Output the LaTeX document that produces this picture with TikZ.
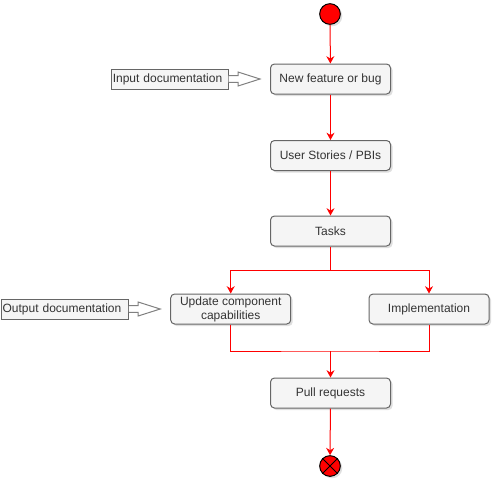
\documentclass[tikz,border=0pt]{standalone}
\usepackage{fontspec}
\setmainfont{Liberation Sans}
\usetikzlibrary{shadows,arrows.meta,calc}
\definecolor{boxfill}{HTML}{F5F5F5}
\definecolor{boxline}{HTML}{666666}
\definecolor{txt}{HTML}{333333}
\definecolor{docline}{HTML}{808080}
\begin{document}
\begin{tikzpicture}[x=0.75pt,y=-0.75pt,
  box/.style={draw=boxline, fill=boxfill, line width=0.75pt, rounded corners=3pt,
    minimum width=90pt, minimum height=22.5pt, inner sep=0pt, align=center,
    text=txt, font=\fontsize{9}{10.5}\selectfont,
    drop shadow={shadow xshift=1.5pt, shadow yshift=-1.5pt, opacity=0.25}},
  docbox/.style={draw=boxline, fill=boxfill, line width=0.75pt, minimum height=15pt,
    inner xsep=1.2pt, inner ysep=1.5pt, anchor=west, align=left, text=txt,
    font=\fontsize{9}{10.5}\selectfont},
  flow/.style={draw=red, line width=0.75pt, -{Stealth[length=5.5pt,width=6pt,inset=1.8pt]}},
  plain/.style={draw=red, line width=0.75pt},
  hollow/.style={draw=docline, fill=white, line width=0.75pt, line join=miter},
  dot/.style={circle, draw=black, fill=red, line width=0.75pt, minimum size=15.5pt, inner sep=0pt,
    drop shadow={shadow xshift=1.5pt, shadow yshift=-1.5pt, opacity=0.25}}
]
\path[use as bounding box] (0,0) rectangle (496,483);

\node[dot] (start) at (330,14) {};
\node[box] (nf) at (330.5,79) {New feature or bug};
\node[box] (us) at (330.5,155.5) {User Stories / PBIs};
\node[box] (tasks) at (330.5,231) {Tasks};
\node[box] (upd) at (230.7,309) {Update component\\capabilities};
\node[box] (impl) at (429,309) {Implementation};
\node[box] (pr) at (330.5,393) {Pull requests};
\node[dot] (stop) at (330,466) {};
\draw[line width=0.75pt] (stop.north west) -- (stop.south east) (stop.north east) -- (stop.south west);

\node[docbox, text width=85.35pt] (indoc) at (110.7,79) {Input documentation};
\node[docbox, text width=93.1pt] (outdoc) at (0.5,309) {Output documentation};

\coordinate (split) at (330.5,270);
\coordinate (merge) at (330.5,351);

\draw[flow] (start) -- (nf);
\draw[flow] (nf) -- (us);
\draw[flow] (us) -- (tasks);
\draw[flow] (tasks.south) -- (split) -| (upd.north);
\draw[flow] (split) -| (impl.north);
\draw[plain] (upd.south) |- (merge) -| (impl.south);
\draw[flow] (merge) -- (pr.north);
\draw[flow] (pr) -- (stop);

\draw[hollow] ($(indoc.east)+(0,-3.3)$) -- ++(9.3,0) -- ++(0,-3.7)
  -- ($(nf.west)+(-10,0)$) -- ($(indoc.east)+(9.3,7)$) -- ++(0,-3.7) -- ($(indoc.east)+(0,3.3)$);
\draw[hollow] ($(outdoc.east)+(0,-3.3)$) -- ++(9.3,0) -- ++(0,-3.7)
  -- ($(upd.west)+(-10,0)$) -- ($(outdoc.east)+(9.3,7)$) -- ++(0,-3.7) -- ($(outdoc.east)+(0,3.3)$);
\end{tikzpicture}
\end{document}
